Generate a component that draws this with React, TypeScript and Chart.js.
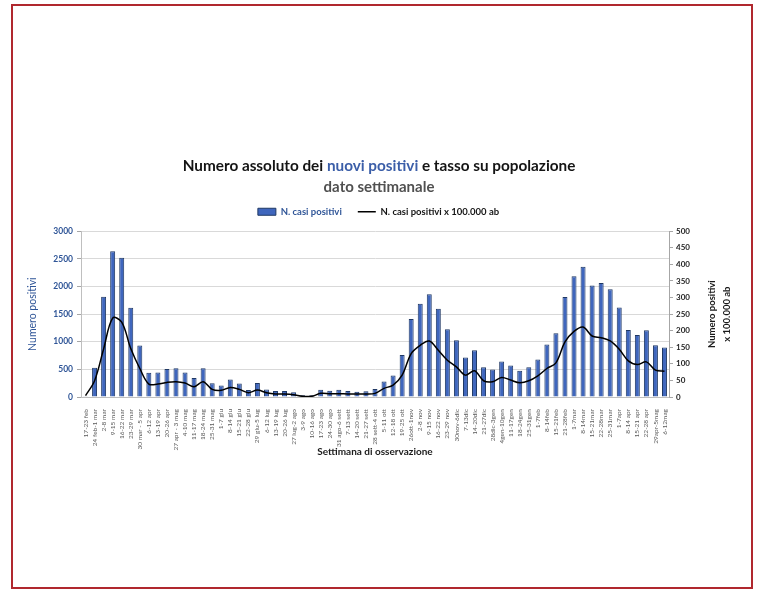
import React, { useEffect, useRef } from "react";
import { Chart, registerables } from "chart.js";

Chart.register(...registerables);

const FONT = "Lato, 'Open Sans', sans-serif";

const weeks = [
  "17-23 feb", "24 feb-1 mar", "2-8 mar", "9-15 mar", "16-22 mar", "23-29 mar",
  "30 mar - 5 apr", "6-12 apr", "13-19 apr", "20-26 apr", "27 apr - 3 mag", "4-10 mag",
  "11-17 mag", "18-24 mag", "25-31 mag", "1-7 giu", "8-14 giu", "15-21 giu",
  "22-28 giu", "29 giu-5 lug", "6-12 lug", "13-19 lug", "20-26 lug", "27 lug-2 ago",
  "3-9 ago", "10-16 ago", "17-23 ago", "24-30 ago", "31 ago-6 sett", "7-13 sett",
  "14-20 sett", "21-27 sett", "28 sett-4 ott", "5-11 ott", "12-18 ott", "19-25 ott",
  "26ott-1nov", "2-8 nov", "9-15 nov", "16-22 nov", "23-29 nov", "30nov-6dic",
  "7-13dic", "14-20dic", "21-27dic", "28dic-3gen", "4gen-10gen", "11-17gen",
  "18-24gen", "25-31gen", "1-7feb", "8-14feb", "15-21feb", "21-28feb",
  "1-7mar", "8-14mar", "15-21mar", "22-28mar", "25-31mar", "1-7apr",
  "8-14 apr", "15-21 apr", "22-28 apr", "29apr-5mag", "6-12mag",
];

const casiPositivi = [
  5, 530, 1815, 2640, 2520, 1615, 930, 440, 445, 505, 520, 445,
  345, 520, 248, 210, 318, 246, 126, 252, 138, 108, 108, 84,
  30, 30, 132, 114, 132, 108, 96, 102, 144, 282, 390, 762,
  1410, 1686, 1860, 1596, 1224, 1026, 714, 846, 540, 498, 642, 570,
  474, 540, 678, 948, 1152, 1812, 2184, 2358, 2016, 2064, 1950, 1620,
  1212, 1122, 1206, 936, 894,
];

const casiPer100k = [
  4, 49, 145, 238, 226, 146, 86, 39, 39, 44, 46, 42,
  31, 46, 23, 20, 29, 23, 13, 21, 13, 9, 9, 7,
  2, 2, 11, 10, 10, 9, 9, 9, 11, 26, 36, 66,
  131, 156, 169, 141, 111, 91, 66, 79, 49, 46, 59, 51,
  43, 49, 64, 86, 103, 166, 198, 211, 184, 179, 169, 144,
  109, 98, 106, 81, 78,
];

const leftMax = 3000;
const leftStep = 500;
const rightMax = 500;
const rightStep = 50;

const titleParts: [string, string][] = [
  ["Numero assoluto dei ", "#141414"],
  ["nuovi positivi", "#3b5ea8"],
  [" e tasso su popolazione", "#141414"],
];
const subtitleText = "dato settimanale";
const rightTitleLines = ["Numero positivi", "x 100.000 ab"];

const BLUE_TEXT = "#2f5597";

const customText = {
  id: "customText",
  afterDraw(chart: any) {
    const ctx = chart.ctx as CanvasRenderingContext2D;
    ctx.save();
    ctx.textBaseline = "middle";
    ctx.font = `bold 15.3px ${FONT}`;
    const total = titleParts.reduce((w, p) => w + ctx.measureText(p[0]).width, 0);
    let x = 379 - total / 2;
    ctx.textAlign = "left";
    for (const [t, c] of titleParts) {
      ctx.fillStyle = c;
      ctx.fillText(t, x, 166);
      x += ctx.measureText(t).width;
    }
    ctx.font = `bold 15px ${FONT}`;
    ctx.fillStyle = "#505050";
    ctx.textAlign = "center";
    ctx.fillText(subtitleText, 379, 187);

    // right axis title, reading bottom-to-top
    const s = chart.scales.y1;
    ctx.font = `bold 9.5px ${FONT}`;
    ctx.fillStyle = "#1a1a1a";
    const cy = (s.top + s.bottom) / 2;
    rightTitleLines.forEach((line, i) => {
      ctx.save();
      ctx.translate(s.right - 45 + i * 15, cy);
      ctx.rotate(-Math.PI / 2);
      ctx.textAlign = "center";
      ctx.fillText(line, 0, 0);
      ctx.restore();
    });
    ctx.restore();
  },
};

export default function App() {
  const ref = useRef<HTMLCanvasElement | null>(null);

  useEffect(() => {
    if (!ref.current) return;
    const chart = new Chart(ref.current, {
      type: "bar",
      data: {
        labels: weeks,
        datasets: [
          {
            type: "bar",
            label: "N. casi positivi",
            data: casiPositivi,
            yAxisID: "y",
            backgroundColor: "#3f66bd",
            borderColor: "#1f3864",
            borderWidth: 1,
            barPercentage: 0.55,
            categoryPercentage: 1,
            pointStyle: "rect",
            order: 2,
          } as any,
          {
            type: "line",
            label: "N. casi positivi x 100.000 ab",
            data: casiPer100k,
            yAxisID: "y1",
            borderColor: "#000000",
            backgroundColor: "#000000",
            borderWidth: 1.5,
            pointRadius: 0,
            pointHoverRadius: 0,
            pointStyle: "line",
            pointBorderColor: "#000000",
            pointBorderWidth: 1.5,
            tension: 0.35,
            fill: false,
            order: 1,
          } as any,
        ],
      },
      options: {
        animation: false,
        responsive: true,
        maintainAspectRatio: false,
        layout: { padding: { top: 191, left: 0, right: 0, bottom: 127 } },
        plugins: {
          title: { display: false },
          tooltip: { enabled: false },
          legend: {
            display: true,
            position: "top",
            labels: {
              font: { family: FONT, size: 9.5, weight: "bold" },
              usePointStyle: true,
              pointStyleWidth: 18,
              boxWidth: 18,
              boxHeight: 7,
              padding: 16,
              sort: (a: any, b: any) => a.datasetIndex - b.datasetIndex,
              generateLabels: (c: any) => {
                const items = (Chart.defaults.plugins.legend.labels as any).generateLabels(c);
                items.forEach((it: any) => {
                  if (it.datasetIndex === 0) {
                    it.fontColor = BLUE_TEXT;
                    it.fillStyle = "#3f66bd";
                    it.strokeStyle = "#1f3864";
                    it.lineWidth = 1;
                    it.pointStyle = "rect";
                  } else {
                    it.fontColor = "#141414";
                    it.strokeStyle = "#000000";
                    it.fillStyle = "#000000";
                    it.lineWidth = 1.5;
                    it.pointStyle = "line";
                  }
                });
                return items;
              },
            },
          },
        },
        scales: {
          x: {
            type: "category",
            position: "bottom",
            grid: { display: false },
            border: { display: true, color: "#bfbfbf" },
            ticks: {
              autoSkip: false,
              minRotation: 90,
              maxRotation: 90,
              padding: 4,
              color: "#595959",
              font: { family: FONT, size: 6.5 },
            },
            title: {
              display: true,
              text: "Settimana di osservazione",
              color: "#1a1a1a",
              font: { family: FONT, size: 10, weight: "bold" },
              padding: { top: 4, bottom: 4 },
            },
            afterFit: (s: any) => {
              s.height = 65;
            },
          },
          xTopSpacer: {
            type: "linear",
            position: "top",
            display: true,
            min: 0,
            max: 1,
            grid: { display: false },
            border: { display: false },
            ticks: { display: false },
            afterFit: (s: any) => {
              s.height = 4.75;
            },
          },
          y: {
            type: "linear",
            position: "left",
            min: 0,
            max: leftMax,
            ticks: {
              stepSize: leftStep,
              color: BLUE_TEXT,
              font: { family: FONT, size: 8.5, weight: "bold" },
              padding: 4,
              callback: (v: any) => String(v),
            },
            grid: { color: "#d9d9d9", tickColor: "#a6a6a6", tickLength: 4 },
            border: { display: true, color: "#bfbfbf" },
            title: {
              display: true,
              text: "Numero positivi",
              color: BLUE_TEXT,
              font: { family: FONT, size: 10.5 },
              padding: { top: 26, bottom: 0 },
            },
            afterFit: (s: any) => {
              s.width = 81;
            },
          },
          y1: {
            type: "linear",
            position: "right",
            min: 0,
            max: rightMax,
            ticks: {
              stepSize: rightStep,
              color: "#262626",
              font: { family: FONT, size: 8, weight: "bold" },
              padding: 3,
              callback: (v: any) => String(v),
            },
            grid: { drawOnChartArea: false, tickColor: "#a6a6a6", tickLength: 4 },
            border: { display: true, color: "#a6a6a6" },
            afterFit: (s: any) => {
              s.width = 88;
            },
          },
        },
      } as any,
      plugins: [customText],
    });
    return () => chart.destroy();
  }, []);

  return (
    <div style={{ position: "fixed", left: 0, top: 0, width: 757, height: 589, background: "#fff" }}>
      <div
        style={{
          position: "absolute",
          left: 11,
          top: 4,
          width: 742,
          height: 585,
          boxSizing: "border-box",
          border: "2.5px solid #b0282e",
          borderBottomWidth: 2,
        }}
      />
      <canvas ref={ref} style={{ position: "absolute", left: 0, top: 0 }} />
    </div>
  );
}
